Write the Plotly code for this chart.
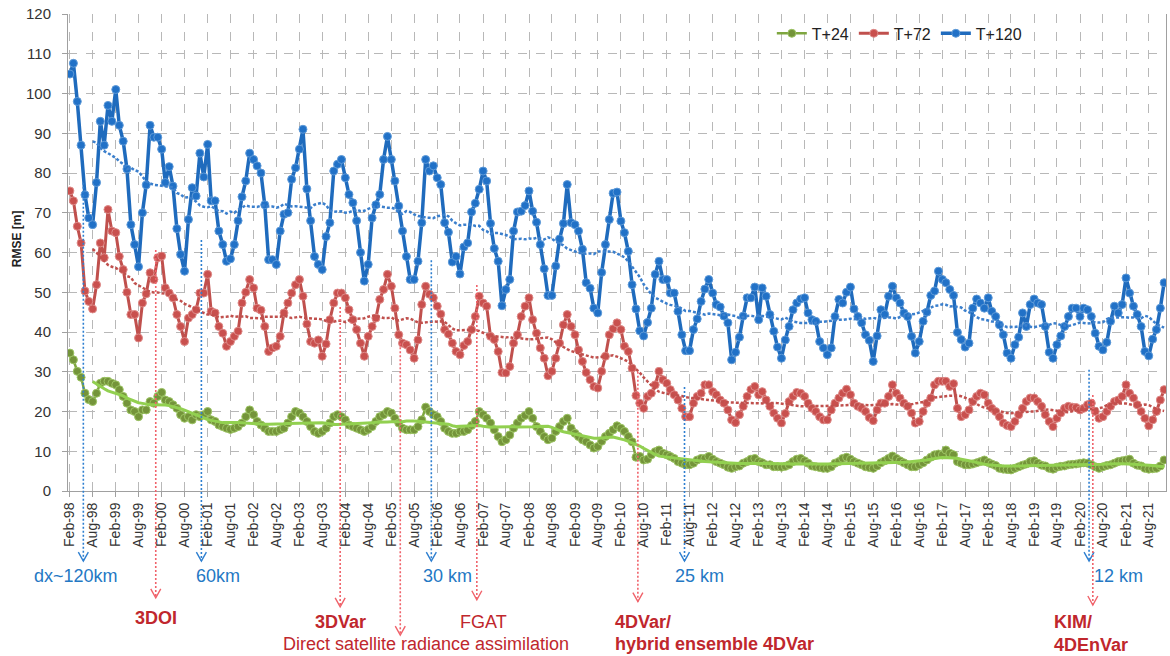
import pandas as pd
import plotly.graph_objects as go

# ---------------- data (monthly, Feb-1998 .. Dec-2021) ----------------
start_month = "1998-02-01"
n_months = 287

t120 = [
    104.9, 107.6, 98, 87, 74.5, 68.7, 67, 77.6, 93, 87, 97, 93,
    101, 92, 88, 81, 67, 62, 56.4, 70, 77, 92, 89, 89,
    86, 77.6, 81.6, 76.7, 66, 59.5, 55.3, 68.3, 76.3, 74.2, 85, 79,
    87.2, 73, 73, 65.4, 62, 57.8, 58.4, 62, 68, 74, 78, 85,
    83.4, 81.8, 80, 72, 58.2, 58.2, 57, 65.4, 69.6, 70, 78.4, 81.3,
    86, 91, 76, 68, 59, 57, 55.7, 64, 67.5, 80.5, 82.2, 83.4,
    78.8, 74.6, 72.5, 68, 60, 52.8, 57, 68.7, 72, 74.6, 83.4, 89.2,
    83.4, 78, 71.7, 65.4, 59, 53.2, 53.2, 57.8, 67.5, 83.4, 80.5, 81.8,
    78.8, 77.1, 67.5, 65.1, 57.6, 59, 54.6, 61.4, 62.4, 70.2, 72.4, 75.9,
    80.5, 78, 67.3, 61, 57.8, 46.6, 50.7, 53.2, 65.4, 70.2, 70.4, 71.8,
    75.5, 70.4, 67.6, 62, 55.9, 49.2, 49.2, 56.6, 63.4, 67.3, 77.1, 67.5,
    67, 65.4, 60.8, 52.4, 51, 46, 44.8, 55, 62, 68.3, 74.9, 75.2,
    67.9, 65, 60.3, 51.9, 45.8, 40.3, 39, 42.4, 46, 54.5, 57.8, 53.2,
    53.2, 49.8, 49.8, 45.2, 39.3, 35.3, 35.3, 40.6, 43.3, 47.7, 50.8, 53.2,
    49.8, 46.9, 46.3, 44, 42.3, 33, 34.9, 38.7, 44, 48.6, 48.6, 51.3,
    43.1, 51.1, 49, 44.4, 40.2, 36.2, 33.4, 38, 41.4, 45.6, 47.3, 48.3,
    48.6, 44.8, 43.1, 42.7, 37.6, 36, 34.3, 36, 43.9, 48.2, 47.3, 50,
    51.3, 45.8, 43.9, 42.3, 39.3, 37.9, 32.6, 39, 45.6, 44.4, 49, 51.5,
    48.6, 47.3, 44.8, 43.9, 38.9, 34.7, 37.6, 42.7, 45, 49.2, 50.3, 55.3,
    53.2, 52.4, 50.7, 49.2, 39.9, 38.1, 36.2, 37.2, 46, 48.3, 47.3, 46,
    48.6, 45.2, 43.9, 41.8, 39.3, 34.7, 33.4, 36.8, 38.7, 44.8, 41.4, 46.9,
    48.3, 47.3, 46.9, 41.4, 34.9, 33.4, 36.8, 39, 41.4, 43.9, 46, 46,
    43.9, 46, 45.6, 43.9, 39.7, 36.4, 35.5, 37.4, 42.7, 46.5, 44.8, 46.9,
    53.6, 49.8, 46.5, 44.4, 41.4, 35.1, 34, 38.2, 40.6, 46, 52.4,
]

t72 = [
    75.5, 73, 66.6, 62.4, 50.3, 47.7, 45.8, 51.9, 62.4, 58.7, 70.8, 65.4,
    65, 59, 55.7, 50, 44.4, 44.4, 38.5, 47.3, 49.6, 54.9, 53.2, 58.7,
    59.1, 51.1, 49.8, 48.6, 44.4, 41.4, 37.6, 43.5, 44.4, 45.6, 49.8, 49.8,
    54.5, 45.2, 44.8, 41.4, 39.7, 36.4, 37.6, 38.9, 40.2, 47.3, 50, 53.2,
    51.1, 46, 45.5, 41.4, 35.1, 36, 36.4, 38.9, 44.8, 47.3, 49.8, 51.9,
    53.2, 49, 42, 37.6, 37.2, 38, 33.9, 37, 43.1, 47.3, 49.8, 49.8,
    48.6, 45.6, 43.1, 40.6, 37.2, 33.9, 38.9, 41.4, 43.5, 48.2, 50.7, 54.5,
    51.5, 46, 39.3, 37.2, 36.8, 35.5, 33.4, 38, 46.9, 51.5, 49.5, 48.6,
    46.5, 44.5, 40.6, 39.5, 37.2, 35.1, 34.3, 36.6, 37.6, 40.6, 43.9, 49,
    47.3, 46.5, 38.9, 38.1, 35.1, 29.8, 29.7, 31.3, 37.2, 39.3, 43.9, 46.5,
    48.6, 43.1, 39.7, 36, 33.4, 29, 30.1, 33.4, 37.2, 41.8, 44.4, 41.4,
    39.3, 35.5, 32.6, 29.8, 28, 26.3, 25.9, 30.1, 33.9, 39.3, 40.8, 42.3,
    40.6, 36.4, 35.1, 30.9, 24, 22.1, 20.8, 23.8, 24.6, 26.7, 30.1, 28,
    27.1, 25.5, 24.2, 22.9, 20.8, 18.7, 18.7, 22.1, 23.8, 24.6, 26.7, 26.7,
    25, 24.2, 22.9, 22.1, 20.4, 17.9, 17.2, 19.2, 21.3, 23.8, 25.5, 26.3,
    24.2, 25, 22.9, 21.3, 19.6, 18.3, 17.1, 19.5, 22.5, 23.8, 24.8, 24.6,
    23.8, 22.1, 20.8, 20, 18.7, 17.9, 17.9, 20.4, 22.1, 23.4, 24.6, 25.6,
    24.2, 22.1, 21.3, 20.8, 20, 18.5, 17.7, 20.4, 22.1, 22.1, 23.8, 26.7,
    24.6, 23.4, 22.1, 21.3, 19.6, 17.1, 17.5, 20, 22.1, 23.4, 26.7, 27.6,
    27.6, 27.6, 26.3, 27, 20.8, 18.7, 19.2, 20.4, 22.5, 23.8, 24.6, 24.2,
    22.1, 20.8, 20, 18.7, 17.1, 16.5, 16.2, 17.5, 19.2, 20.8, 22.5, 23.4,
    23.4, 22.5, 21.3, 19.2, 17.5, 16.2, 18.3, 19.6, 20.8, 21.3, 21.1, 21,
    20.4, 20.8, 21.7, 22.1, 20, 18.3, 18.7, 20, 21.3, 22.5, 22.9, 23.8,
    26.7, 24.6, 23.4, 21.7, 20, 18.3, 16.4, 17.9, 20, 22.9, 25.5,
]

t24 = [
    34.7, 33, 30.1, 28.6, 24.6, 23, 22.5, 24.6, 27.1, 27.6, 27.6, 27.1,
    26.7, 25.5, 23.8, 22.1, 20.4, 20, 18.7, 20.4, 20.4, 22.5, 22.1, 23.8,
    24.8, 22.9, 22.5, 21.7, 20.8, 19.2, 18.3, 18.7, 17.9, 19.2, 18.7, 19.2,
    20, 17.9, 17.5, 16.6, 16.2, 15.8, 15.5, 15.8, 16.2, 17.1, 18.7, 20.4,
    19.2, 17.5, 16.6, 15.8, 15, 15, 15, 15.4, 15.8, 17.1, 18.7, 20,
    19.6, 18.7, 17.5, 16.2, 15, 14.5, 15, 15.8, 17.1, 18.7, 19.2, 18.7,
    17.9, 16.6, 16.2, 15.8, 15.4, 15, 15.5, 16.2, 17.5, 18.7, 19.2, 20,
    19.6, 18.3, 17.1, 15.8, 15.4, 15.4, 15.4, 16.2, 17.9, 21.1, 20, 19.2,
    18.7, 17.5, 15.8, 15, 14.5, 14.5, 15, 15, 15.4, 16.5, 17.5, 20,
    19.2, 18.3, 17.1, 15.4, 13.7, 12.4, 12.9, 14.1, 15.8, 17.1, 18.3, 19,
    20, 18.3, 16.2, 15, 13.7, 12.9, 13.3, 15, 16.2, 17.5, 18.3, 15.8,
    14.5, 13.7, 12.9, 12.4, 11.6, 10.8, 11.2, 12.5, 13.7, 14.5, 15.4, 16.4,
    15.8, 15, 13.7, 12.4, 8.5, 8.7, 7.8, 8, 9.1, 9.9, 10.3, 9.5,
    9.1, 8.7, 8.2, 7.4, 7, 6.6, 6.6, 7, 7.8, 8.2, 8.2, 8.7,
    8, 7.4, 7, 6.6, 6, 5.7, 6.1, 6.3, 7, 7.4, 8, 8.2,
    7.4, 7.1, 6.6, 6.6, 6.1, 6.1, 6, 6.2, 6.6, 7.4, 8, 8.2,
    7.6, 7, 6.3, 6.1, 5.9, 5.7, 5.7, 6.1, 7, 7.4, 8.2, 8.5,
    8, 7.4, 7, 6.6, 6.1, 5.9, 5.7, 6.3, 7.1, 7.6, 8.2, 8.8,
    8.2, 7.6, 7.1, 6.6, 6.1, 6.1, 6.6, 7.1, 7.8, 8.5, 9.1, 9.3,
    9.1, 10.3, 9.5, 9.1, 7.4, 7, 6.6, 6.6, 6.8, 7.1, 7.4, 7.8,
    7.2, 6.8, 6.4, 5.7, 5.5, 5.4, 5.3, 5.7, 6.1, 6.5, 6.8, 7.4,
    7.6, 7, 6.5, 6.3, 5.7, 5.5, 6, 6.2, 6.3, 6.6, 6.7, 6.8,
    7, 7.1, 7, 6.6, 6.1, 5.7, 6.1, 6.4, 6.6, 7, 7.4, 7.6,
    7.8, 8, 7, 6.5, 6.3, 5.7, 5.5, 5.6, 5.7, 6.3, 7.8,
]

series_names = ["T+24", "T+72", "T+120"]

# annotations below the axis: (label, line x date, line top (paper), text x date)
blue_marks = [
    ("dx~120km", "1998-05-19", 0.646, "1998-03-24"),
    ("60km", "2000-12-13", 0.526, "2001-04-22"),
    ("30 km", "2005-12-16", 0.484, "2006-04-25"),
    ("25 km", "2011-06-22", 0.218, "2011-10-22"),
    ("12 km", "2020-04-13", 0.254, "2020-12-07"),
]
red_marks = [
    # (line x, line top, tip y)
    ("1999-12-16", 0.505, -0.224),
    ("2003-12-22", 0.386, -0.243),
    ("2005-04-13", 0.310, -0.302),
    ("2006-12-13", 0.432, -0.228),
    ("2010-06-16", 0.250, -0.232),
    ("2020-05-13", 0.201, -0.239),
]
red_texts = [
    ("<b>3DOI</b>", "1999-12-16", -0.266, "center"),
    ("<b>3DVar</b>", "2003-12-22", -0.274, "center"),
    ("Direct satellite radiance assimilation", "2005-11-01", -0.320, "center"),
    ("FGAT", "2007-02-07", -0.274, "center"),
    ("<b>4DVar/</b>", "2009-11-28", -0.274, "left"),
    ("<b>hybrid ensemble 4DVar</b>", "2009-11-28", -0.320, "left"),
    ("<b>KIM/</b>", "2019-06-22", -0.274, "left"),
    ("<b>4DEnVar</b>", "2019-06-22", -0.322, "left"),
]

# ---------------- build ----------------
dates = pd.date_range(start_month, periods=n_months, freq="MS")

def trend(vals):
    s = pd.Series(vals, dtype=float).rolling(12, center=True, min_periods=7).mean()
    s.iloc[:6] = float("nan")
    return s.tolist()

FONT = "Liberation Sans, Arial, sans-serif"
BLUE = "#1f6bbd"
RED = "#c0504d"
GREEN = "#7ea63f"
TXT_BLUE = "#2478c4"
TXT_RED = "#c0272d"

fig = go.Figure()

styles = [
    (t24, "T+24", GREEN, "#74943a", "#9cc463", 2.5),
    (t72, "T+72", RED, "#c9504e", "#de8a88", 3.0),
    (t120, "T+120", BLUE, "#2171c7", "#5e9ad8", 3.5),
]
for vals, name, lc, mc, mlc, lw in styles:
    fig.add_trace(go.Scatter(
        x=dates, y=vals, name=name, mode="lines+markers",
        line=dict(color=lc, width=lw),
        marker=dict(size=8, color=mc, line=dict(color=mlc, width=1)),
    ))

# trend lines (moving averages)
fig.add_trace(go.Scatter(x=dates, y=trend(t24), mode="lines", showlegend=False,
                         line=dict(color="#92d050", width=3), hoverinfo="skip"))
fig.add_trace(go.Scatter(x=dates, y=trend(t72), mode="lines", showlegend=False,
                         line=dict(color="#c0504d", width=2.5, dash="3px,2px"), hoverinfo="skip"))
fig.add_trace(go.Scatter(x=dates, y=trend(t120), mode="lines", showlegend=False,
                         line=dict(color="#3b7fcc", width=2.5, dash="3px,2px"), hoverinfo="skip"))

shapes = []
annotations = []
TIP_BLUE = -0.147

def arrow(xd, top, tip, color):
    shapes.append(dict(type="line", xref="x", yref="paper", x0=xd, x1=xd, y0=top, y1=tip,
                       line=dict(color=color, width=1.6, dash="2px,2px")))
    shapes.append(dict(type="path", xref="x", yref="paper", xsizemode="pixel", ysizemode="pixel",
                       xanchor=xd, yanchor=tip, path="M-5,9 L0,0 L5,9",
                       line=dict(color=color, width=1.4)))

for label, xd, top, tx in blue_marks:
    arrow(xd, top, TIP_BLUE, "#2e7fd0")
    annotations.append(dict(text=label, x=tx, y=-0.178, xref="x", yref="paper",
                            showarrow=False, xanchor="center", yanchor="middle",
                            font=dict(family=FONT, size=18, color=TXT_BLUE)))

for xd, top, tip in red_marks:
    arrow(xd, top, tip, "#f0626a")

for text, tx, ty, anchor in red_texts:
    annotations.append(dict(text=text, x=tx, y=ty, xref="x", yref="paper",
                            showarrow=False, xanchor=anchor, yanchor="middle",
                            font=dict(family=FONT, size=18, color=TXT_RED)))

annotations.append(dict(text="<b>RMSE [m]</b>", x=-0.0465, y=0.53, xref="paper", yref="paper",
                        showarrow=False, textangle=-90, xanchor="center", yanchor="middle",
                        font=dict(family=FONT, size=12, color="#222222")))

fig.update_layout(
    width=1170, height=656, autosize=False,
    margin=dict(l=68, r=4, t=14, b=165),
    plot_bgcolor="white", paper_bgcolor="white",
    font=dict(family=FONT, color="#404040"),
    shapes=shapes, annotations=annotations,
    legend=dict(orientation="h", x=0.641, y=0.995, xanchor="left", yanchor="top",
                bgcolor="rgba(0,0,0,0)", font=dict(family=FONT, size=16, color="#222222"),
                itemwidth=30, tracegroupgap=0),
    showlegend=True,
)

fig.update_xaxes(
    range=["1998-01-17", "2021-12-16"],
    tick0="1998-02-01", dtick="M6", tickformat="%b-%y", tickangle=-90,
    tickfont=dict(family=FONT, size=14, color="#333333"),
    showgrid=True, gridcolor="#b8b8b8", griddash="dash", gridwidth=1,
    showline=True, linecolor="#a0a0a0", linewidth=1,
    ticks="outside", ticklen=5, tickcolor="#a0a0a0",
    zeroline=False, automargin=False,
)
fig.update_yaxes(
    range=[0, 120], dtick=10, tick0=0,
    tickfont=dict(family=FONT, size=15, color="#333333"),
    showgrid=True, gridcolor="#b8b8b8", griddash="dash", gridwidth=1,
    showline=True, linecolor="#a0a0a0", linewidth=1, mirror=True,
    ticks="outside", ticklen=5, tickcolor="#a0a0a0", ticklabelstandoff=8,
    zeroline=False, automargin=False,
)

for name, arr in zip(series_names, [t24, t72, t120]):
    assert len(arr) == n_months, (name, len(arr))

fig.write_html(
    "out.html",
    config={"displayModeBar": False},
    post_script="document.body.style.margin='0';document.body.style.overflow='hidden';",
)
